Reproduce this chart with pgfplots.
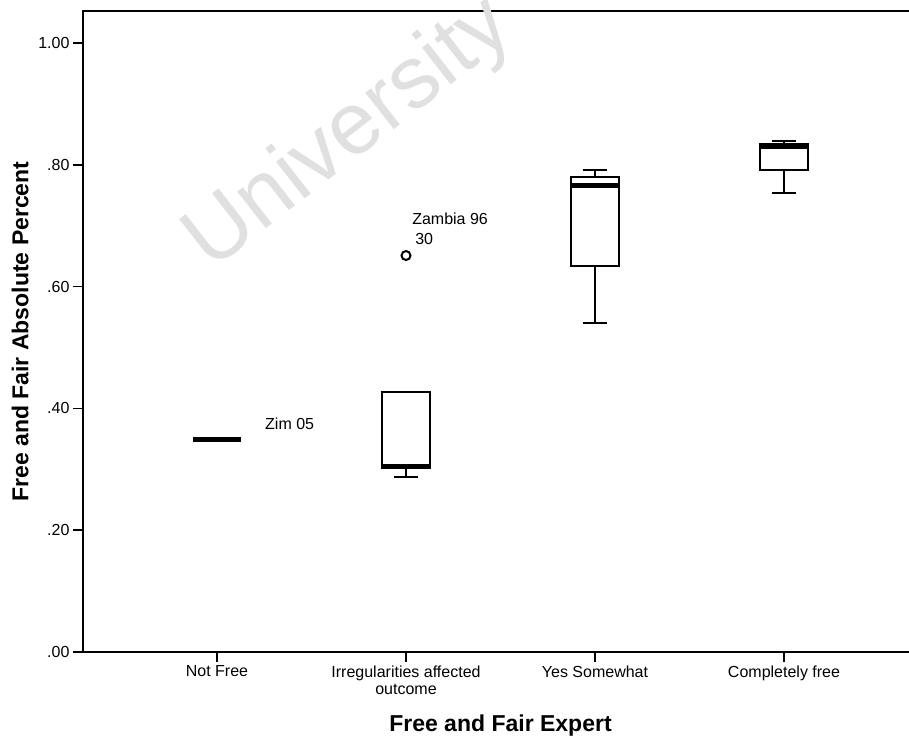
\documentclass[border=0pt]{standalone}
\usepackage{fontspec}
\setmainfont{Liberation Sans}
\usepackage{pgfplots}
\pgfplotsset{compat=1.18}
\usepgfplotslibrary{statistics}
\begin{document}
\begin{tikzpicture}
\useasboundingbox (-83pt,-88pt) rectangle (826pt,652pt);
\begin{axis}[
  scale only axis, width=835pt, height=641pt,
  xmin=-0.709, xmax=3.709, ymin=0, ymax=1.0525,
  clip=false,
  axis line style={line width=2pt},
  tick align=outside, major tick length=10pt,
  every tick/.style={line width=1.5pt, black},
  xtick pos=bottom, ytick pos=left,
  xtick={0,1,2,3},
  xticklabels={Not Free, {Irregularities affected\\outcome}, Yes Somewhat, Completely free},
  xticklabel style={align=center, font=\fontsize{16}{17}\selectfont},
  ytick={0,0.2,0.4,0.6,0.8,1.0},
  yticklabels={.00,.20,.40,.60,.80,1.00},
  yticklabel style={font=\fontsize{16}{19}\selectfont},
  /pgf/number format/assume math mode=true,
  xlabel={Free and Fair Expert},
  ylabel={Free and Fair Absolute Percent},
  xlabel style={font=\fontsize{23}{27}\selectfont\bfseries, at={(axis description cs:0.5,-0.1154)}, anchor=center},
  ylabel style={font=\fontsize{23}{27}\selectfont\bfseries, at={(axis description cs:-0.0754,0.5)}, anchor=center},
  boxplot/draw direction=y,
  boxplot/every box/.style={line width=2pt},
  boxplot/every whisker/.style={line width=2pt},
  boxplot/every median/.style={line width=4.5pt},
]
\node[rotate=38, text=black!12, font=\fontsize{88}{100}\selectfont] at (axis cs:0.704,0.849) {University};

\addplot[black, boxplot prepared={draw position=0, median=0.3486, lower quartile=0.3486, upper quartile=0.3486, lower whisker=0.3486, upper whisker=0.3486, box extend=0.25, whisker extend=0.132}] coordinates {};
\addplot[black, boxplot prepared={draw position=1, median=0.305, lower quartile=0.302, upper quartile=0.4275, lower whisker=0.288, upper whisker=0.4275, box extend=0.255, whisker extend=0.132}] coordinates {};
\addplot[black, boxplot prepared={draw position=2, median=0.766, lower quartile=0.634, upper quartile=0.7794, lower whisker=0.541, upper whisker=0.791, box extend=0.255, whisker extend=0.132}] coordinates {};
\addplot[black, boxplot prepared={draw position=3, median=0.8297, lower quartile=0.791, upper quartile=0.834, lower whisker=0.753, upper whisker=0.8396, box extend=0.252, whisker extend=0.132}] coordinates {};

\addplot[only marks, mark=o, mark size=4.5pt, line width=2pt, black] coordinates {(1,0.651)};

\node[anchor=west, inner sep=0pt, font=\fontsize{16}{19}\selectfont] at (axis cs:0.254,0.3752) {Zim 05};
\node[anchor=west, inner sep=0pt, font=\fontsize{16}{19}\selectfont] at (axis cs:1.032,0.7118) {Zambia 96};
\node[anchor=west, inner sep=0pt, font=\fontsize{16}{19}\selectfont] at (axis cs:1.048,0.678) {30};
\end{axis}
\end{tikzpicture}
\end{document}
